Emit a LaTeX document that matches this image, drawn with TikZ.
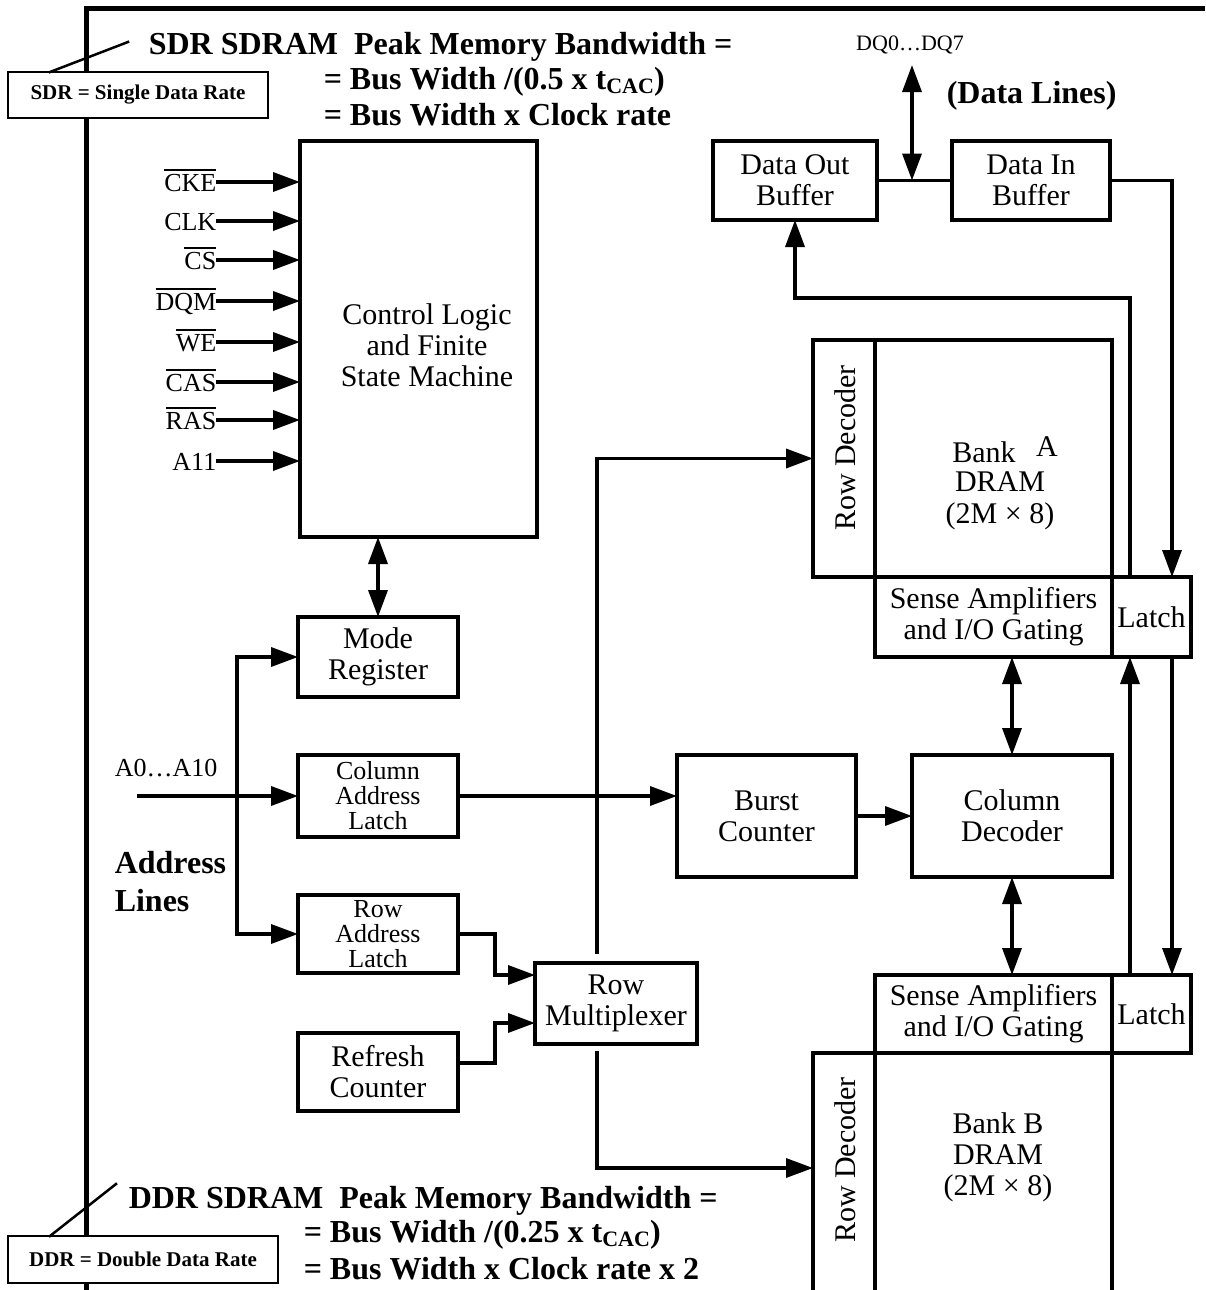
\documentclass[tikz,border=0pt]{standalone}
\usepackage{fontspec}
\setmainfont{Liberation Serif}
\usetikzlibrary{arrows.meta}
\newcommand\ovl[1]{\vbox{\hrule height 1.5pt\kern 3pt\hbox{#1}}}
\newcommand\fA{\fontsize{30}{31}\selectfont}
\newcommand\fB{\fontsize{26}{25}\selectfont}
\newcommand\fC{\fontsize{22}{24}\selectfont}
\newcommand\fH{\fontsize{32}{34}\selectfont\bfseries}
\newcommand\fS{\fontsize{21}{24}\selectfont\bfseries}
\newcommand\subcac{\raisebox{-4pt}{\fontsize{22}{22}\selectfont CAC}}
\begin{document}
\begin{tikzpicture}[x=1pt,y=-1pt,line width=3.5pt,line cap=rect,
  box/.style={draw,line width=3.5pt,inner sep=0pt,outer sep=0pt,align=center,font=\fA},
  sbox/.style={draw,fill=white,line width=2.5pt,inner sep=0pt,outer sep=0pt,align=center,font=\fS},
  arr/.style={-{Triangle[length=27pt,width=19pt]}},
  darr/.style={{Triangle[length=27pt,width=19pt]}-{Triangle[length=27pt,width=19pt]}},
  sig/.style={anchor=base east,inner sep=0pt,font=\fB},
  head/.style={anchor=base west,inner sep=0pt,font=\fH},
  txt/.style={inner sep=0pt,align=center,font=\fA}]
\useasboundingbox (0,0) rectangle (1205,1290);
\fill[white] (0,0) rectangle (1205,1290);

% frame
\draw[line width=5pt,line cap=butt] (86,1290) -- (86,9) -- (1205,9);

% headings
\node[head] (h1) at (147,55) {SDR SDRAM\ \ Peak Memory Bandwidth =};
\node[head] (h2) at (322,89) {= Bus Width /(0.5 x t\subcac)};
\node[head] (h3) at (322,125) {= Bus Width x Clock rate};
\node[head] (h4) at (127,1208) {DDR SDRAM\ \ Peak Memory Bandwidth =};
\node[head] (h5) at (302,1242) {= Bus Width /(0.25 x t\subcac)};
\node[head] (h6) at (302,1279) {= Bus Width x Clock rate x 2};

\coordinate (sdrtip) at (128,42);
\node[sbox,minimum width=260pt,minimum height=46pt] (sdr) at (138,95) {SDR = Single Data Rate};
\draw[line width=2.5pt] ([xshift=42pt]sdr.north west) -- (sdrtip);
\coordinate (ddrtip) at (116,1184);
\node[sbox,minimum width=270pt,minimum height=47pt] (ddr) at (143,1259.5) {DDR = Double Data Rate};
\draw[line width=2.5pt] ([xshift=42pt]ddr.north west) -- (ddrtip);

% boxes
\node[box,minimum width=237pt,minimum height=396pt] (ctrl) at (418.5,339) {};
\node[txt] (ctrltxt) at (427,345) {Control Logic\\and Finite\\State Machine};
\node[box,minimum width=160pt,minimum height=80pt] (mode) at (378,657) {Mode\\Register};
\node[box,minimum width=160pt,minimum height=82pt,font=\fB] (cal) at (378,796) {Column\\Address\\Latch};
\node[box,minimum width=160pt,minimum height=78pt,font=\fB] (ral) at (378,934) {Row\\Address\\Latch};
\node[box,minimum width=160pt,minimum height=78pt] (refr) at (378,1072) {Refresh\\Counter};
\node[box,minimum width=162pt,minimum height=81pt] (mux) at (616,1003.5) {Row\\Multiplexer};
\node[box,minimum width=179pt,minimum height=122pt] (burst) at (766.5,816) {Burst\\Counter};
\node[box,minimum width=200pt,minimum height=122pt] (coldec) at (1012,816) {Column\\Decoder};
\node[box,minimum width=164pt,minimum height=79pt] (dout) at (795,180.5) {Data Out\\Buffer};
\node[box,minimum width=158pt,minimum height=79pt] (din) at (1031,180.5) {Data In\\Buffer};

\node[box,minimum width=62pt,minimum height=237pt] (rdA) at (844,458.5) {};
\node[box,minimum width=237pt,minimum height=237pt] (bankA) at (993.5,458.5) {};
\node[box,minimum width=237pt,minimum height=80pt] (senseA) at (993.5,617) {Sense Amplifiers\\and I/O Gating};
\node[box,minimum width=79pt,minimum height=80pt] (latchA) at (1151.5,617) {Latch};
\node[txt,rotate=90] (rdAt) at (845,448) {Row Decoder};
\node[txt] (bankAt) at (984,452) {Bank};
\node[txt] (bankAa) at (1047,447) {A};
\node[txt,font=\fontsize{30}{32}\selectfont] (bankAd) at (1000,501) {DRAM\\(2M × 8)};

\node[box,minimum width=237pt,minimum height=78pt] (senseB) at (993.5,1014) {Sense Amplifiers\\and I/O Gating};
\node[box,minimum width=79pt,minimum height=78pt] (latchB) at (1151.5,1014) {Latch};
\node[box,minimum width=62pt,minimum height=247pt] (rdB) at (844,1176.5) {};
\node[box,minimum width=237pt,minimum height=247pt] (bankB) at (993.5,1176.5) {};
\node[txt,rotate=90] (rdBt) at (845,1160) {Row Decoder};
\node[txt] (bankBt) at (998,1157) {Bank B\\DRAM\\(2M × 8)};

% control signals
\foreach \y/\t/\n in {182/\ovl{CKE}/sa,221/CLK/sb,260/\ovl{CS}/sc,301/\ovl{DQM}/sd,342/\ovl{WE}/se,382/\ovl{CAS}/sf,420/\ovl{RAS}/sg,461/A11/sh}{
  \node[sig] (\n) at (218,\y+9) {\t};
  \coordinate (\n c) at (218,\y);
  \draw[arr] (\n c) -- (\n c -| ctrl.west);
}
\draw[darr] (ctrl.south -| mode.north) -- (mode.north);

% address lines
\node[anchor=base west,inner sep=0pt,font=\fB] (alab) at (113,776) {A0…A10};
\node[anchor=base west,inner sep=0pt,font=\fH] (al1) at (113,873) {Address};
\node[anchor=base west,inner sep=0pt,font=\fH] (al2) at (113,911) {Lines};
\coordinate (ain) at (139,796);
\coordinate (bus) at (237,796);
\draw[arr] (ain) -- (cal.west);
\draw (bus |- mode.west) -- (bus |- ral.west);
\draw[arr] (bus |- mode.west) -- (mode.west);
\draw[arr] (bus |- ral.west) -- (ral.west);

\draw[arr] (cal.east) -- (cal.east -| burst.west);
\draw[arr] (burst.east) -- (coldec.west);
\draw[arr] (ral.east) -- ++(37,0) |- ([yshift=28.5pt]mux.west);
\draw[arr] ([yshift=9pt]refr.east) -- ++(37,0) |- ([yshift=-19.5pt]mux.west);
\coordinate (rdBin) at (813,1168);
\draw[arr] ([xshift=-19pt,yshift=11pt]mux.north) |- (rdA.west);
\draw[arr] ([xshift=-19pt,yshift=-9pt]mux.south) |- (rdBin);

\draw[darr] (coldec.north) -- (coldec.north |- senseA.south);
\draw[darr] (coldec.south) -- (coldec.south |- senseB.north);

% data lines
\node[inner sep=0pt,font=\fC] (dq) at (910,45) {DQ0…DQ7};
\node[head] (dlab) at (945,103) {(Data Lines)};
\coordinate (dqtop) at (912,65);
\draw (dout.east) -- (din.west);
\draw[darr] (dqtop) -- (dqtop |- dout.east);
\draw[arr] (din.east) -| ([xshift=20.5pt]latchA.north);
\draw[arr] ([xshift=-21.5pt]latchA.north) -- ++(0,-279) -| (dout.south);
\draw[arr] ([xshift=20.5pt]latchA.south) -- ([xshift=20.5pt]latchB.north);
\draw[arr] ([xshift=-21.5pt]latchB.north) -- ([xshift=-21.5pt]latchA.south);
\end{tikzpicture}
\end{document}
